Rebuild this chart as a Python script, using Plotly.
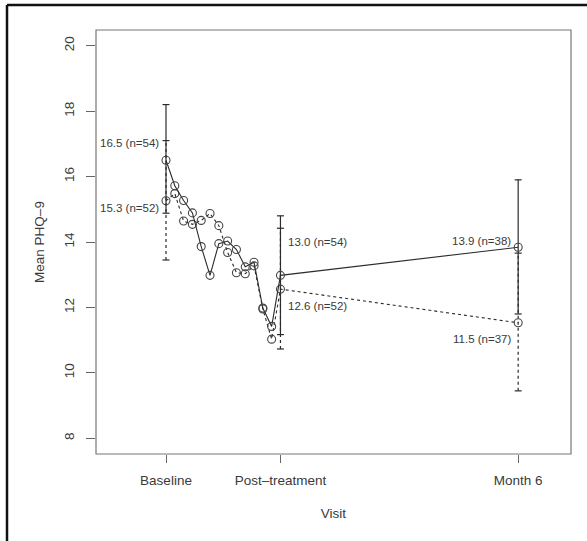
import plotly.graph_objects as go

# x positions: baseline=0, sessions 1..12, post-treatment=13, month 6=40
x_vals = [0, 1, 2, 3, 4, 5, 6, 7, 8, 9, 10, 11, 12, 13, 40]
tick_x = [0, 13, 40]
tick_text = ["Baseline", "Post\u2013treatment", "Month 6"]

solid_y = [16.5, 15.72, 15.27, 14.89, 13.86, 12.98, 13.95, 14.03, 13.77, 13.24, 13.38, 11.98, 11.42, 12.98, 13.84]
dashed_y = [15.26, 15.48, 14.64, 14.54, 14.66, 14.87, 14.5, 13.68, 13.06, 13.03, 13.27, 11.95, 11.03, 12.56, 11.53]

# error bars at baseline, post-treatment, month 6
err_x = [0, 13, 40]
solid_hi = [18.2, 14.8, 15.9]
solid_lo = [14.88, 11.17, 11.8]
dashed_hi = [17.1, 14.42, 13.66]
dashed_lo = [13.45, 10.73, 9.45]

labels_solid = ["16.5 (n=54)", "13.0 (n=54)", "13.9 (n=38)"]
labels_dashed = ["15.3 (n=52)", "12.6 (n=52)", "11.5 (n=37)"]
label_solid_y = [17.03, 14.0, 14.03]
label_dashed_y = [15.03, 12.03, 11.03]
label_side = ["left", "right", "left"]

LINE = "#2b2b2b"
TEXT = "#3a3a3a"
FONT = "Liberation Sans, Arial, Helvetica, sans-serif"

fig = go.Figure()

def err_segments(xs, lo, hi):
    X, Y = [], []
    for x, a, b in zip(xs, lo, hi):
        X += [x, x, None]
        Y += [a, b, None]
    return X, Y

# error bars
for lo, hi, dash in [(solid_lo, solid_hi, "solid"), (dashed_lo, dashed_hi, "3px,3px")]:
    X, Y = err_segments(err_x, lo, hi)
    fig.add_trace(go.Scatter(x=X, y=Y, mode="lines",
                             line=dict(color=LINE, width=1.2, dash=dash),
                             hoverinfo="skip", showlegend=False))
    fig.add_trace(go.Scatter(x=err_x + err_x, y=lo + hi, mode="markers",
                             marker=dict(symbol="line-ew", size=5,
                                         line=dict(color=LINE, width=1.2)),
                             hoverinfo="skip", showlegend=False))

# series
fig.add_trace(go.Scatter(x=x_vals, y=dashed_y, mode="lines+markers",
                         line=dict(color=LINE, width=1.1, dash="3px,3px"),
                         marker=dict(symbol="circle-open", size=8,
                                     color="#444", line=dict(width=1.1)),
                         showlegend=False))
fig.add_trace(go.Scatter(x=x_vals, y=solid_y, mode="lines+markers",
                         line=dict(color=LINE, width=1.1),
                         marker=dict(symbol="circle-open", size=8,
                                     color="#444", line=dict(width=1.1)),
                         showlegend=False))

annotations = []
for i, x in enumerate(err_x):
    for txt, yy in [(labels_solid[i], label_solid_y[i]), (labels_dashed[i], label_dashed_y[i])]:
        if label_side[i] == "left":
            anchor, shift = "right", -5
        else:
            anchor, shift = "left", 6
        annotations.append(dict(x=x, y=yy, text=txt, showarrow=False,
                                xanchor=anchor, yanchor="middle", xshift=shift,
                                font=dict(size=11.5, color=TEXT, family=FONT)))

fig.update_layout(
    width=587, height=541,
    margin=dict(l=96, r=16, t=30, b=87),
    paper_bgcolor="white", plot_bgcolor="white",
    font=dict(family=FONT, color=TEXT, size=13.5),
    annotations=annotations,
    shapes=[
        dict(type="rect", xref="paper", yref="paper", x0=0, x1=1, y0=0, y1=1,
             line=dict(color="#777", width=1.2)),
        dict(type="line", xref="paper", yref="paper",
             x0=-96/475 + 7/475, x1=1.2, y0=1 + 25/424, y1=1 + 25/424,
             line=dict(color="#111", width=2.5)),
        dict(type="line", xref="paper", yref="paper",
             x0=-96/475 + 7/475, x1=-96/475 + 7/475, y0=1 + 25/424, y1=-0.4,
             line=dict(color="#111", width=2.5)),
    ],
    xaxis=dict(range=[-7.95, 46.0], showgrid=False, zeroline=False,
               tickvals=tick_x, ticktext=tick_text, ticks="outside",
               ticklen=8, tickcolor="#666", showline=False,
               ticklabelstandoff=6,
               tickfont=dict(size=13.5, color=TEXT),
               title=dict(text="Visit", font=dict(size=13.5, color=TEXT), standoff=21)),
    yaxis=dict(range=[7.52, 20.48], showgrid=False, zeroline=False,
               tickvals=[8, 10, 12, 14, 16, 18, 20], ticks="outside",
               ticklen=9, tickcolor="#666", showline=False, tickangle=-90,
               ticklabelstandoff=7,
               tickfont=dict(size=13.5, color=TEXT),
               title=dict(text="Mean PHQ\u20139", font=dict(size=13.5, color=TEXT), standoff=13)),
)

fig.write_html("out.html")
